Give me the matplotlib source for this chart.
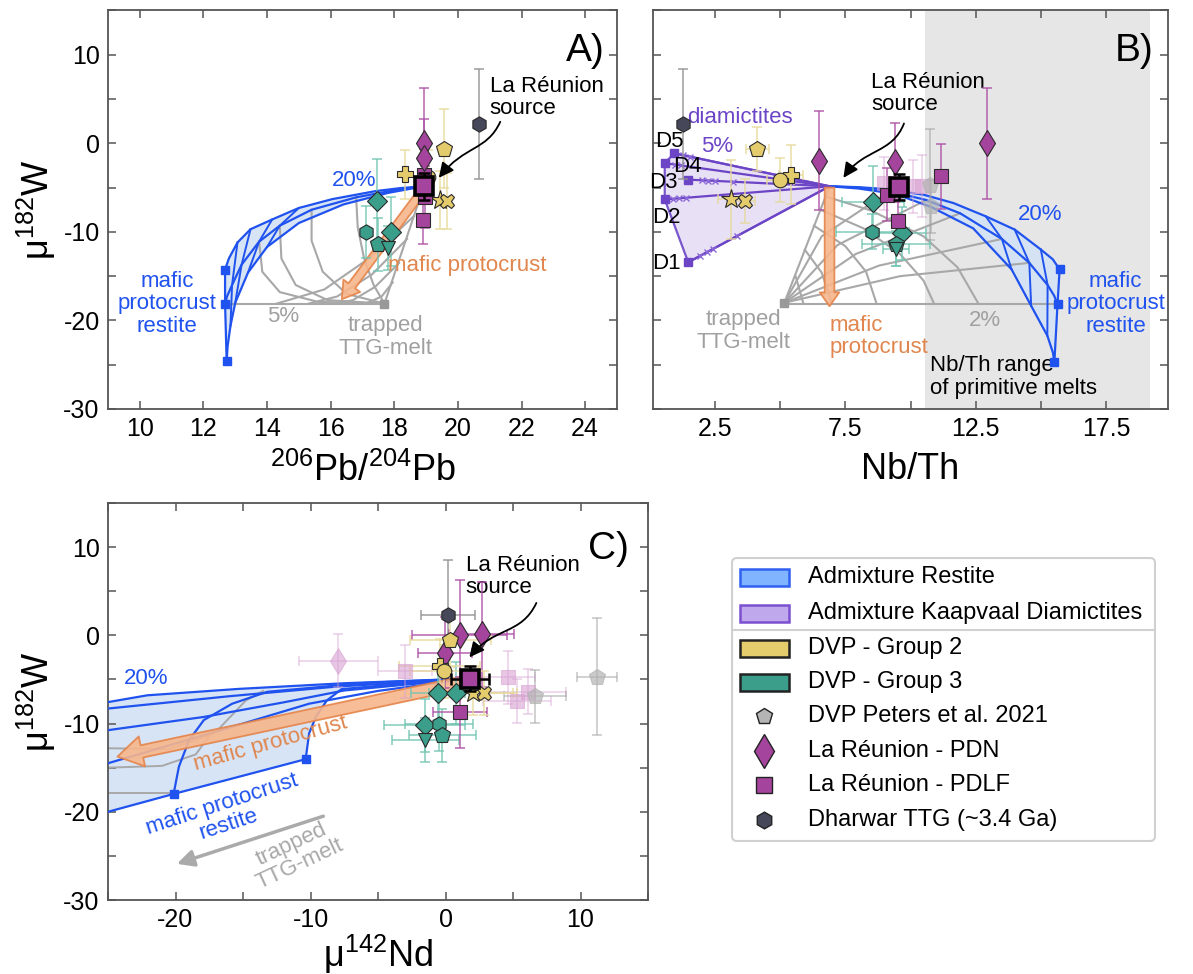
import matplotlib
matplotlib.use("Agg")
import matplotlib.pyplot as plt
from matplotlib.patches import Polygon, FancyBboxPatch, Rectangle, FancyArrowPatch
from matplotlib.path import Path
from matplotlib.ticker import MultipleLocator, FixedLocator

plt.rcParams.update({
    'font.family': ['Liberation Sans', 'DejaVu Sans'],
    'mathtext.fontset': 'custom',
    'mathtext.rm': 'Liberation Sans',
    'mathtext.it': 'Liberation Sans:italic',
    'mathtext.bf': 'Liberation Sans:bold',
    'axes.unicode_minus': False,
})

# ---------------------------------------------------------------- colours
BLUE = '#1f52ee'
BLUE_FILL = '#d3e2f6'
PURPLE_LINE = '#6c45c6'
PURPLE_FILL = '#e6ddf4'
GREY_MESH = '#a8a8a8'
ORANGE_TXT = '#e0864e'
ORANGE_FC = '#f7b68c'
ORANGE_EC = '#e5844a'
YELLOW = '#e4cb6c'
TEAL = '#3a9e8a'
MAGENTA = '#a5449c'
DARK = '#464759'
GREY_PT = '#b4b4b4'

# ================================================================ panel A
# 206Pb/204Pb  vs  mu182W
A_source = (18.93, -4.85)
A_ttg = (17.69, -18.1)
A_top_x = [18.93, 18.20, 17.40, 16.05, 15.00, 14.16, 13.48, 13.07, 12.80, 12.68]
A_top_y = [-4.85, -5.05, -5.40, -6.30, -7.30, -8.60, -9.70, -11.20, -13.00, -14.25]
A_mid_x = [18.93, 18.00, 16.80, 15.40, 14.40, 13.75, 13.20, 12.90, 12.74, 12.68]
A_mid_y = [-4.85, -5.30, -6.10, -7.50, -9.30, -11.10, -13.70, -16.00, -17.30, -18.10]
A_bot_x = [18.93, 17.80, 16.40, 15.00, 14.00, 13.40, 13.00, 12.85, 12.76, 12.73]
A_bot_y = [-4.85, -5.60, -6.90, -9.00, -11.70, -14.60, -18.00, -20.60, -22.90, -24.60]
A_ties = [4, 5, 6, 7]
# trapped TTG-melt mixing lines (restite mixtures -> melt) and contours
A_fan = [
    ([16.80, 16.85, 17.05, 17.35, 17.69], [-6.10, -9.5, -13.0, -16.0, -18.1]),
    ([15.40, 15.40, 15.75, 16.50, 17.69], [-7.50, -11.0, -14.5, -17.0, -18.1]),
    ([14.40, 14.45, 14.90, 15.90, 17.69], [-9.30, -13.0, -16.0, -17.7, -18.1]),
    ([13.75, 13.85, 14.40, 15.60, 17.69], [-11.10, -14.5, -16.8, -17.9, -18.1]),
    ([12.68, 17.69], [-18.1, -18.1]),
    ([18.93, 17.69], [-4.85, -18.1]),
]
A_contours = [
    ([18.62, 17.20, 15.80, 14.30], [-8.2, -13.0, -16.5, -18.1]),
    ([18.40, 17.30, 16.20, 15.30], [-10.8, -14.8, -17.3, -18.1]),
    ([18.15, 17.40, 16.70, 16.20], [-13.5, -16.2, -17.7, -18.1]),
    ([17.95, 17.60, 17.10], [-15.7, -17.3, -18.1]),
]
A_arrow = ((18.90, -5.3), (16.35, -17.6))

A_g2_mk = ['p', 'P', 'o', '*', 'X']
A_g2_x = [19.55, 18.35, 19.05, 19.45, 19.65]
A_g2_y = [-0.6, -3.5, -3.8, -6.4, -6.5]
A_g2_xe = [0, 0, 0, 0, 0]
A_g2_ye = [4.5, 2.8, 3.0, 3.3, 3.2]

A_g3_mk = ['D', 'h', 'D', 'p', 'v']
A_g3_x = [17.45, 17.10, 17.90, 17.50, 17.80]
A_g3_y = [-6.5, -10.0, -10.0, -11.4, -11.8]
A_g3_xe = [0, 0, 0, 0, 0]
A_g3_ye = [4.7, 2.9, 3.9, 3.0, 2.5]

A_pdn_x = [18.93, 18.93]
A_pdn_y = [0.0, -1.7]
A_pdn_xe = [0, 0]
A_pdn_ye = [6.3, 4.5]

A_pdlf_x = [18.90, 18.93, 18.95]
A_pdlf_y = [-8.7, -3.6, -6.1]
A_pdlf_xe = [0, 0, 0]
A_pdlf_ye = [2.7, 3.0, 3.5]

A_dhw_x = [20.65]
A_dhw_y = [2.2]
A_dhw_xe = [0]
A_dhw_ye = [6.2]

A_src_err = (0.08, 1.5)

# ================================================================ panel B
# Nb/Th  vs  mu182W
B_source = (6.90, -4.85)
B_ttg = (5.17, -18.0)
B_top_x = [6.90, 8.00, 9.00, 10.50, 11.64, 12.88, 13.99, 14.99, 15.45, 15.71]
B_top_y = [-4.85, -4.95, -5.15, -5.80, -6.74, -8.24, -9.74, -11.99, -13.10, -14.23]
B_mid_x = [6.90, 8.00, 9.20, 10.60, 11.90, 13.50, 14.55, 15.25, 15.50, 15.63]
B_mid_y = [-4.85, -5.00, -5.40, -6.40, -7.90, -10.80, -13.50, -16.00, -17.20, -18.16]
B_bot_x = [6.90, 8.00, 9.40, 10.80, 12.40, 13.87, 14.62, 15.24, 15.45, 15.51]
B_bot_y = [-4.85, -5.10, -5.70, -7.20, -9.60, -14.23, -18.35, -21.72, -23.60, -24.70]
B_ties = [5, 6, 7]
B_fan = [
    ([5.17, 6.90], [-18.0, -4.85]),
    ([5.17, 6.60, 9.20], [-18.0, -10.5, -5.40]),
    ([5.17, 7.20, 10.60], [-18.0, -11.5, -6.40]),
    ([5.17, 7.90, 11.90], [-18.0, -12.5, -7.90]),
    ([5.17, 8.80, 13.50], [-18.0, -13.8, -10.80]),
    ([5.17, 9.60, 14.55], [-18.0, -15.0, -13.50]),
    ([5.17, 15.63], [-18.1, -18.1]),
]
B_contours = [
    ([6.75, 8.50, 10.50, 11.80, 12.60], [-6.0, -7.6, -10.5, -14.0, -18.1]),
    ([6.55, 8.20, 9.60, 10.50, 10.90], [-7.5, -9.6, -12.5, -15.5, -18.1]),
    ([6.30, 7.50, 8.30, 8.70], [-9.3, -11.6, -14.5, -18.1]),
    ([5.95, 6.60, 7.00], [-12.0, -14.6, -18.1]),
    ([5.60, 5.90], [-15.0, -18.1]),
]
B_arrow = ((6.90, -5.0), (6.90, -18.4))
B_shade = (10.57, 19.17)

# Kaapvaal diamictite end members D1..D5 and mixing ticks
B_dia_lab = ['D1', 'D2', 'D3', 'D4', 'D5']
B_dia_x = [1.49, 0.59, 1.49, 0.59, 0.95]
B_dia_y = [-13.43, -6.34, -4.10, -2.24, -1.12]
B_dia_tick_x = [1.95, 2.20, 2.45, 3.35, 0.90, 1.15, 1.40, 2.00, 2.25, 2.50, 3.20, 1.00, 1.20, 1.30, 1.55]
B_dia_tick_y = [-12.7, -12.3, -11.9, -10.5, -6.27, -6.21, -6.15, -4.17, -4.20, -4.24, -4.34, -2.41, -2.49, -1.34, -1.50]

B_g2_mk = ['p', 'P', 'o', '*', 'X']
B_g2_x = [4.14, 5.43, 5.02, 3.13, 3.65]
B_g2_y = [-0.67, -3.54, -4.10, -6.34, -6.53]
B_g2_xe = [0.45, 0.45, 0.50, 0.50, 0.40]
B_g2_ye = [2.5, 3.3, 2.5, 4.5, 2.5]

B_g3_mk = ['D', 'h', 'D', 'p', 'v']
B_g3_x = [8.57, 8.54, 9.69, 9.43, 9.43]
B_g3_y = [-6.60, -9.96, -10.15, -11.38, -11.90]
B_g3_xe = [1.2, 1.4, 0.9, 1.3, 0.5]
B_g3_ye = [4.0, 2.0, 3.0, 2.5, 2.0]

B_pdn_x = [6.49, 9.41, 12.94]
B_pdn_y = [-1.98, -2.16, 0.0]
B_pdn_xe = [0, 0, 0]
B_pdn_ye = [5.6, 4.5, 6.3]

B_pdlf_x = [11.17, 9.11, 9.52]
B_pdlf_y = [-3.73, -5.78, -8.77]
B_pdlf_xe = [0, 0, 0]
B_pdlf_ye = [3.7, 3.0, 2.5]

B_pdlf_faint_x = [9.00, 10.10, 10.45]
B_pdlf_faint_y = [-4.50, -4.85, -4.85]
B_pdlf_faint_xe = [0, 0, 0]
B_pdlf_faint_ye = [3.0, 3.0, 3.5]

B_pet_x = [10.76, 10.79]
B_pet_y = [-4.66, -7.09]
B_pet_xe = [0, 0]
B_pet_ye = [6.3, 3.0]

B_dhw_x = [1.30]
B_dhw_y = [2.16]
B_dhw_xe = [0]
B_dhw_ye = [6.2]

B_src_pt = (9.56, -4.93)
B_src_err = (0.3, 1.5)

# ================================================================ panel C
# mu142Nd  vs  mu182W
C_source = (1.80, -4.90)
C_lines = [
    ([1.80, -7.5, -15.3, -22.1, -25.0], [-4.90, -5.43, -6.07, -6.80, -7.57]),
    ([1.80, -8.0, -16.0, -25.0], [-4.90, -5.80, -6.90, -8.30]),
    ([1.80, -7.5, -12.0, -17.9, -25.0], [-4.90, -6.25, -7.60, -9.25, -10.75]),
    ([1.80, -5.0, -10.1, -15.0, -19.2, -25.0], [-4.90, -6.30, -7.75, -10.0, -11.9, -14.50]),
]
C_e1_x = [1.80, -4.0, -7.7, -8.8, -9.6, -10.1, -10.36]
C_e1_y = [-4.90, -5.6, -6.1, -7.4, -9.25, -11.1, -14.04]
C_e2_x = [1.80, -6.0, -13.2, -15.8, -17.9, -19.0, -19.75, -20.14]
C_e2_y = [-4.90, -5.4, -6.4, -7.75, -9.6, -11.9, -14.9, -17.98]
C_end_x = [-10.36, -20.14, -25.0]
C_end_y = [-14.04, -17.98, -20.0]
C_grey = [
    ([-25.0, -20.5, -17.1, -14.8, -13.5], [-12.8, -12.9, -11.1, -7.4, -6.3]),
    ([-25.0, -21.0, -18.5, -17.3], [-15.0, -14.8, -13.5, -11.0]),
    ([-25.0, -20.14], [-17.9, -17.9]),
]
C_arrow = ((1.50, -5.3), (-24.3, -13.75))
C_ttg_arrow = ((-9.05, -20.5), (-19.9, -25.9))

C_g2_mk = ['p', 'P', 'o', '*', 'X']
C_g2_x = [0.34, -0.44, -0.10, 2.03, 2.82]
C_g2_y = [-0.56, -3.45, -4.08, -6.50, -6.50]
C_g2_xe = [3.0, 3.0, 2.5, 3.0, 2.5]
C_g2_ye = [3.0, 3.0, 3.0, 2.5, 2.5]

C_g3_mk = ['D', 'D', 'D', 'h', 'p', 'v']
C_g3_x = [-0.57, 0.78, -1.54, -0.50, -0.23, -1.49]
C_g3_y = [-6.55, -6.55, -10.19, -10.07, -11.31, -11.87]
C_g3_xe = [2.0, 2.0, 3.0, 2.5, 2.5, 2.5]
C_g3_ye = [3.0, 3.5, 3.0, 3.0, 3.0, 2.5]

C_pdn_x = [1.04, 2.69, -0.05]
C_pdn_y = [0.0, 0.1, -1.95]
C_pdn_xe = [3.5, 2.4, 2.0]
C_pdn_ye = [6.3, 6.0, 4.0]

C_pdn_faint_x = [-7.93]
C_pdn_faint_y = [-2.88]
C_pdn_faint_xe = [2.9]
C_pdn_faint_ye = [3.0]

C_pdlf_x = [1.04]
C_pdlf_y = [-8.73]
C_pdlf_xe = [2.0]
C_pdlf_ye = [4.0]

C_pdlf_faint_x = [-2.97, 4.64, 5.30, 6.13]
C_pdlf_faint_y = [-4.08, -4.76, -7.49, -6.37]
C_pdlf_faint_xe = [2.0, 2.0, 2.5, 2.8]
C_pdlf_faint_ye = [3.0, 3.0, 2.5, 2.5]

C_pet_x = [11.24, 6.60]
C_pet_y = [-4.68, -6.93]
C_pet_xe = [1.5, 2.3]
C_pet_ye = [6.6, 3.0]

C_dhw_x = [0.20]
C_dhw_y = [2.25]
C_dhw_xe = [2.0]
C_dhw_ye = [6.3]

C_src_err = (1.4, 1.4)

# ================================================================ legend
LEG_LABELS = ['Admixture Restite', 'Admixture Kaapvaal Diamictites',
              'DVP - Group 2', 'DVP - Group 3', 'DVP Peters et al. 2021',
              'La Réunion - PDN', 'La Réunion - PDLF', 'Dharwar TTG (~3.4 Ga)']

# ================================================================ figure
W, H = 1193, 974
fig = plt.figure(figsize=(W / 100, H / 100), dpi=100)


def px_axes(l, t, r, b):
    return fig.add_axes([l / W, 1 - b / H, (r - l) / W, (b - t) / H])


axA = px_axes(108, 10.5, 617, 409)
axB = px_axes(653, 10.5, 1168, 409)
axC = px_axes(108, 503, 648, 900)


def style(ax, xlim, major, minor, ylab=True):
    ax.set_xlim(*xlim)
    ax.set_ylim(-30, 15)
    ax.xaxis.set_major_locator(major)
    if minor is not None:
        ax.xaxis.set_minor_locator(minor)
    ax.yaxis.set_major_locator(MultipleLocator(10))
    ax.yaxis.set_minor_locator(MultipleLocator(5))
    ax.tick_params(which='both', direction='in', length=6, width=1.1, color='#555555',
                   top=True, right=True, labelsize=18, pad=6)
    if not ylab:
        ax.tick_params(labelleft=False)
    for s in ax.spines.values():
        s.set_color('#555555')
        s.set_linewidth(1.3)


style(axA, (9, 25), MultipleLocator(2), None)
style(axB, (0.14, 19.86), FixedLocator([2.5, 7.5, 12.5, 17.5]), FixedLocator([5, 10, 15]), ylab=False)
style(axC, (-25, 15), MultipleLocator(10), MultipleLocator(5))

axA.set_xlabel(r'$^{206}$Pb/$^{204}$Pb', fontsize=26, labelpad=8)
axB.set_xlabel('Nb/Th', fontsize=26, labelpad=8)
axC.set_xlabel(r'μ$^{142}$Nd', fontsize=26, labelpad=0)
axA.set_ylabel(r'μ$^{182}$W', fontsize=26, labelpad=4)
axC.set_ylabel(r'μ$^{182}$W', fontsize=26, labelpad=4)

MS = {'p': 12, 'P': 11, 'o': 10.5, '*': 15, 'X': 10.5, 'D': 10, 'h': 11, 'v': 10, 'd': 13, 's': 10}


def draw_points(ax, mk, xs, ys, xe, ye, fc, ecol, alpha=1.0, edge='#2a2a2a', z=6):
    for m, x, y, dx, dy in zip(mk, xs, ys, xe, ye):
        ax.errorbar(x, y, xerr=dx if dx else None, yerr=dy if dy else None, fmt='none',
                    ecolor=ecol, elinewidth=1.3, capsize=3.5, capthick=1.3,
                    alpha=0.75 * alpha, zorder=z)
        ax.plot(x, y, ls='none', marker=m, ms=MS[m], mfc=fc, mec=edge, mew=0.8,
                alpha=alpha, zorder=z + 1)


def draw_source(ax, x, y, err):
    ax.errorbar(x, y, xerr=err[0], yerr=err[1], fmt='none', ecolor='black',
                elinewidth=1.8, capsize=4, capthick=1.8, zorder=9)
    ax.plot(x, y, ls='none', marker='s', ms=13, mfc=MAGENTA, mec='black', mew=2.6, zorder=10)


def restite(ax, tx, ty, mx, my, bx, by, ties):
    poly = list(zip(tx, ty)) + [(mx[-1], my[-1])] + list(zip(bx, by))[::-1]
    ax.add_patch(Polygon(poly, closed=True, fc=BLUE_FILL, ec='none', alpha=0.9, zorder=1))
    for cx, cy in ((tx, ty), (mx, my), (bx, by)):
        ax.plot(cx, cy, color=BLUE, lw=1.6, zorder=3)
    for k in ties:
        ax.plot([tx[k], mx[k], bx[k]], [ty[k], my[k], by[k]], color=BLUE, lw=1.4, zorder=3)
    ex = [tx[-1], mx[-1], bx[-1]]
    ey = [ty[-1], my[-1], by[-1]]
    ax.plot(ex, ey, color=BLUE, lw=1.6, marker='s', ms=6, mfc=BLUE, mec=BLUE, zorder=4)


def fat_arrow(ax, start, end, tail, hw, hl):
    ax.annotate('', xy=end, xytext=start,
                arrowprops=dict(arrowstyle=f'simple,head_length={hl},head_width={hw},tail_width={tail}',
                                mutation_scale=1, fc=ORANGE_FC, ec=ORANGE_EC, lw=1.3,
                                shrinkA=0, shrinkB=0, alpha=0.9),
                zorder=4)


def squiggle(ax, p0, c1, c2, p1):
    path = Path([p0, c1, c2, p1], [Path.MOVETO, Path.CURVE4, Path.CURVE4, Path.CURVE4])
    ax.add_patch(FancyArrowPatch(path=path, arrowstyle='-|>,head_length=0.45,head_width=0.22',
                                 mutation_scale=20, color='black', lw=1.3, zorder=11))


# ---------------------------------------------------------------- panel A
ax = axA
for gx, gy in A_fan + A_contours:
    ax.plot(gx, gy, color=GREY_MESH, lw=1.5, zorder=2)
ax.plot(*A_ttg, marker='s', ms=6, color='#999999', zorder=3)
restite(ax, A_top_x, A_top_y, A_mid_x, A_mid_y, A_bot_x, A_bot_y, A_ties)
fat_arrow(ax, A_arrow[0], A_arrow[1], 6, 15, 12)

draw_points(ax, A_g3_mk, A_g3_x, A_g3_y, A_g3_xe, A_g3_ye, TEAL, '#72c4b3')
draw_points(ax, A_g2_mk, A_g2_x, A_g2_y, A_g2_xe, A_g2_ye, YELLOW, '#e6da9a')
draw_points(ax, ['h'], A_dhw_x, A_dhw_y, A_dhw_xe, A_dhw_ye, DARK, '#8f8f8f')
draw_points(ax, ['s'] * 3, A_pdlf_x, A_pdlf_y, A_pdlf_xe, A_pdlf_ye, MAGENTA, '#ad4fa4')
draw_points(ax, ['d'] * 2, A_pdn_x, A_pdn_y, A_pdn_xe, A_pdn_ye, MAGENTA, '#ad4fa4')
draw_source(ax, A_source[0], A_source[1], A_src_err)

ax.text(24.6, 10.4, 'A)', fontsize=28, ha='right', va='center')
ax.text(21.0, 5.2, 'La Réunion\nsource', fontsize=16, ha='left', va='center', linespacing=1.05)
squiggle(ax, (21.33, 2.43), (20.9, -0.9), (20.2, -0.2), (19.4, -3.9))
ax.text(16.75, -4.2, '20%', fontsize=16, color=BLUE, ha='center', va='center', zorder=12)
ax.text(10.85, -18.1, 'mafic\nprotocrust\nrestite', fontsize=16, color=BLUE, ha='center',
        va='center', linespacing=1.1, zorder=12)
ax.text(14.5, -19.5, '5%', fontsize=16, color='#a0a0a0', ha='center', va='center')
ax.text(17.72, -21.9, 'trapped\nTTG-melt', fontsize=16, color='#a0a0a0', ha='center',
        va='center', linespacing=1.1)
ax.text(17.8, -13.8, 'mafic protocrust', fontsize=16, color=ORANGE_TXT, ha='left', va='center',
        zorder=12)

# ---------------------------------------------------------------- panel B
ax = axB
ax.axvspan(*B_shade, color='#e6e6e6', zorder=0, lw=0)
for gx, gy in B_fan + B_contours:
    ax.plot(gx, gy, color=GREY_MESH, lw=1.5, zorder=2)
ax.plot(*B_ttg, marker='s', ms=6, color='#999999', zorder=3)
restite(ax, B_top_x, B_top_y, B_mid_x, B_mid_y, B_bot_x, B_bot_y, B_ties)

# diamictite admixture field
order = [4, 3, 1, 0]
hull = [B_source] + [(B_dia_x[i], B_dia_y[i]) for i in order]
ax.add_patch(Polygon(hull, closed=True, fc=PURPLE_FILL, ec=PURPLE_LINE, lw=1.6, alpha=0.9, zorder=1))
for dx_, dy_ in zip(B_dia_x, B_dia_y):
    ax.plot([dx_, B_source[0]], [dy_, B_source[1]], color=PURPLE_LINE, lw=1.6, zorder=3)
ax.plot(B_dia_x, B_dia_y, ls='none', marker='s', ms=6, color=PURPLE_LINE, zorder=4)
ax.plot(B_dia_tick_x, B_dia_tick_y, ls='none', marker='x', ms=5, mew=1.0, color='#8a66d6', zorder=4)
fat_arrow(ax, B_arrow[0], B_arrow[1], 7, 14, 10)

draw_points(ax, B_g3_mk, B_g3_x, B_g3_y, B_g3_xe, B_g3_ye, TEAL, '#72c4b3')
draw_points(ax, B_g2_mk, B_g2_x, B_g2_y, B_g2_xe, B_g2_ye, YELLOW, '#e6da9a')
draw_points(ax, ['s'] * 3, B_pdlf_faint_x, B_pdlf_faint_y, B_pdlf_faint_xe, B_pdlf_faint_ye,
            '#d9a3d3', '#d9a3d3', alpha=0.6, edge='#d9a3d3')
draw_points(ax, ['p'] * 2, B_pet_x, B_pet_y, B_pet_xe, B_pet_ye, GREY_PT, '#a0a0a0', alpha=0.7,
            edge=GREY_PT)
draw_points(ax, ['h'], B_dhw_x, B_dhw_y, B_dhw_xe, B_dhw_ye, DARK, '#8f8f8f')
draw_points(ax, ['s'] * 3, B_pdlf_x, B_pdlf_y, B_pdlf_xe, B_pdlf_ye, MAGENTA, '#ad4fa4')
draw_points(ax, ['d'] * 3, B_pdn_x, B_pdn_y, B_pdn_xe, B_pdn_ye, MAGENTA, '#ad4fa4')
draw_source(ax, B_src_pt[0], B_src_pt[1], B_src_err)

ax.text(19.3, 10.4, 'B)', fontsize=28, ha='right', va='center')
ax.text(8.5, 5.6, 'La Réunion\nsource', fontsize=16, ha='left', va='center', linespacing=1.05)
squiggle(ax, (9.75, 2.24), (9.3, -1.2), (8.2, -0.6), (7.43, -3.9))
ax.text(1.45, 2.9, 'diamictites', fontsize=16, color=PURPLE_LINE, ha='left', va='center')
ax.text(2.6, -0.4, '5%', fontsize=16, color=PURPLE_LINE, ha='center', va='center')
B_dia_lab_pos = [(0.65, -13.6), (0.65, -8.4), (0.55, -4.4), (1.45, -2.6), (0.78, 0.2)]
for lab, (lx, ly) in zip(B_dia_lab, B_dia_lab_pos):
    ax.text(lx, ly, lab, fontsize=16, ha='center', va='center', zorder=12)
ax.text(14.95, -8.0, '20%', fontsize=16, color=BLUE, ha='center', va='center')
ax.text(17.85, -18.1, 'mafic\nprotocrust\nrestite', fontsize=16, color=BLUE, ha='center',
        va='center', linespacing=1.1)
ax.text(12.85, -20.0, '2%', fontsize=16, color='#a0a0a0', ha='center', va='center')
ax.text(3.6, -21.2, 'trapped\nTTG-melt', fontsize=16, color='#a0a0a0', ha='center', va='center',
        linespacing=1.1)
ax.text(6.9, -21.8, 'mafic\nprotocrust', fontsize=16, color=ORANGE_TXT, ha='left', va='center',
        linespacing=1.1)
ax.text(10.75, -26.4, 'Nb/Th range\nof primitive melts', fontsize=16, ha='left', va='center',
        linespacing=1.1)

# ---------------------------------------------------------------- panel C
ax = axC
top = C_lines[0]
poly = list(zip(*top)) + [(C_end_x[-1], C_end_y[-1])] + list(zip(C_end_x, C_end_y))[::-1][1:] \
    + list(zip(C_e1_x, C_e1_y))[::-1]
ax.add_patch(Polygon(poly, closed=True, fc=BLUE_FILL, ec='none', alpha=0.9, zorder=1))
for gx, gy in C_grey:
    ax.plot(gx, gy, color=GREY_MESH, lw=1.4, zorder=2)
for lx, ly in C_lines:
    ax.plot(lx, ly, color=BLUE, lw=1.6, zorder=3)
ax.plot(C_e1_x, C_e1_y, color=BLUE, lw=1.6, zorder=3)
ax.plot(C_e2_x, C_e2_y, color=BLUE, lw=1.6, zorder=3)
ax.plot(C_end_x, C_end_y, color=BLUE, lw=1.6, zorder=3)
ax.plot(C_end_x[:2], C_end_y[:2], ls='none', marker='s', ms=6, color=BLUE, zorder=4)
fat_arrow(ax, C_arrow[0], C_arrow[1], 9, 22, 18)
ax.annotate('', xy=C_ttg_arrow[1], xytext=C_ttg_arrow[0],
            arrowprops=dict(arrowstyle='-|>,head_length=0.5,head_width=0.25', mutation_scale=20,
                            color='#aaaaaa', lw=2.5, shrinkA=0, shrinkB=0))

draw_points(ax, ['s'] * 4, C_pdlf_faint_x, C_pdlf_faint_y, C_pdlf_faint_xe, C_pdlf_faint_ye,
            '#d9a3d3', '#d9a3d3', alpha=0.6, edge='#d9a3d3')
draw_points(ax, ['d'], C_pdn_faint_x, C_pdn_faint_y, C_pdn_faint_xe, C_pdn_faint_ye,
            '#d9a3d3', '#d9a3d3', alpha=0.6, edge='#d9a3d3')
draw_points(ax, ['p'] * 2, C_pet_x, C_pet_y, C_pet_xe, C_pet_ye, GREY_PT, '#a0a0a0', alpha=0.7,
            edge=GREY_PT)
draw_points(ax, C_g3_mk, C_g3_x, C_g3_y, C_g3_xe, C_g3_ye, TEAL, '#72c4b3')
draw_points(ax, ['h'], C_dhw_x, C_dhw_y, C_dhw_xe, C_dhw_ye, DARK, '#8f8f8f')
draw_points(ax, ['s'], C_pdlf_x, C_pdlf_y, C_pdlf_xe, C_pdlf_ye, MAGENTA, '#ad4fa4')
draw_points(ax, ['d'] * 3, C_pdn_x, C_pdn_y, C_pdn_xe, C_pdn_ye, MAGENTA, '#ad4fa4')
draw_points(ax, C_g2_mk, C_g2_x, C_g2_y, C_g2_xe, C_g2_ye, YELLOW, '#e6da9a')
draw_source(ax, C_source[0], C_source[1], C_src_err)

ax.text(13.6, 9.8, 'C)', fontsize=28, ha='right', va='center')
ax.text(1.5, 6.7, 'La Réunion\nsource', fontsize=16, ha='left', va='center', linespacing=1.05)
squiggle(ax, (6.73, 3.67), (5.6, 0.0), (3.6, 1.0), (1.77, -2.5))
ax.text(-22.2, -4.9, '20%', fontsize=16, color=BLUE, ha='center', va='center')
ax.text(-12.97, -12.25, 'mafic protocrust', fontsize=16, color=ORANGE_TXT, ha='center',
        va='center', rotation=15.5, rotation_mode='anchor', zorder=12)
ax.text(-16.3, -20.3, 'mafic protocrust\nrestite', fontsize=16, color=BLUE, ha='center',
        va='center', rotation=18, rotation_mode='anchor', linespacing=1.05, zorder=12)
ax.text(-11.1, -24.8, 'trapped\nTTG-melt', fontsize=16, color='#a8a8a8', ha='center',
        va='center', rotation=25, rotation_mode='anchor', linespacing=1.05)

# ---------------------------------------------------------------- legend
axL = px_axes(731, 557, 1156, 842)
axL.set_xlim(0, 425)
axL.set_ylim(285, 0)
axL.axis('off')
axL.add_patch(FancyBboxPatch((1, 1), 423, 283, boxstyle='round,pad=0,rounding_size=5',
                             fc='white', ec='#d0d0d0', lw=1.5))
axL.plot([1, 424], [73, 73], color='#d0d0d0', lw=1.5)
rows = [20, 56, 91, 125, 159, 194, 228, 263]
patch_style = [('#80b4ff', '#3060f0'), ('#c0a8ec', '#7a50d0'), (YELLOW, '#222222'), (TEAL, '#222222')]
for (fc, ec), ry in zip(patch_style, rows[:4]):
    axL.add_patch(Rectangle((9, ry - 8.5), 49, 17, fc=fc, ec=ec, lw=1.8))
leg_markers = [('p', GREY_PT, 12), ('d', MAGENTA, 17), ('s', MAGENTA, 12), ('h', DARK, 12)]
for (m, c, s), ry in zip(leg_markers, rows[4:]):
    axL.plot(33, ry, marker=m, ms=s, mfc=c, mec='#222222', mew=1.0)
for lab, ry in zip(LEG_LABELS, rows):
    axL.text(77, ry, lab, fontsize=17, ha='left', va='center')

fig.savefig('out.png', dpi=100)
